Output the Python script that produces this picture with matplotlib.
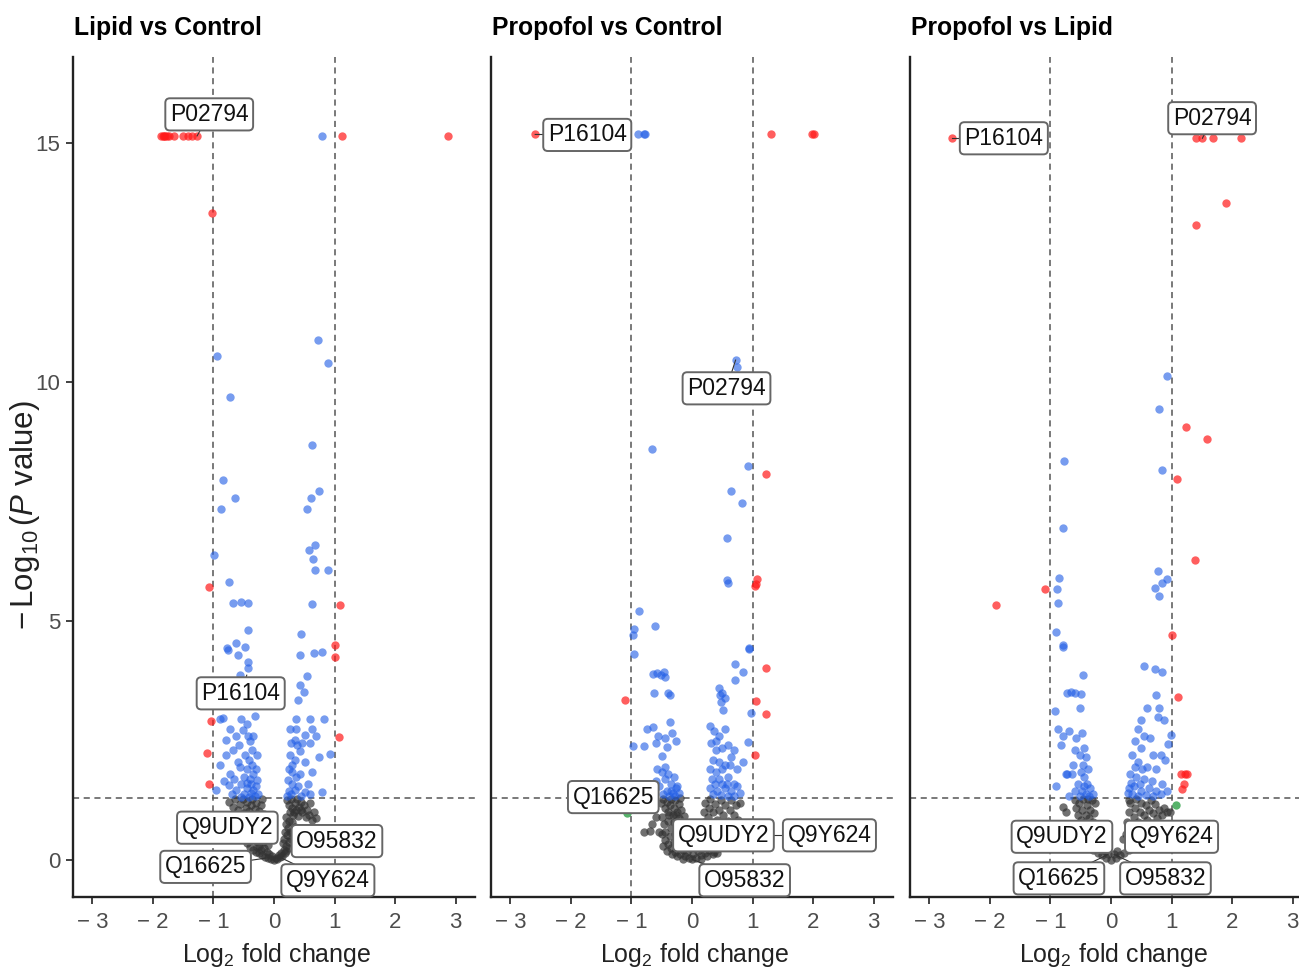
import matplotlib
matplotlib.use("Agg")
import matplotlib.pyplot as plt

plt.rcParams['font.family'] = ['Liberation Sans', 'DejaVu Sans']
plt.rcParams['mathtext.fontset'] = 'custom'
plt.rcParams['mathtext.rm'] = 'Liberation Sans'
plt.rcParams['mathtext.it'] = 'Liberation Sans:italic'

# ---------------- data (log2 FC, -log10 P) ----------------
titles = ["Lipid vs Control", "Propofol vs Control", "Propofol vs Lipid"]

# Lipid vs Control
lc_red = [(-1.86, 15.15), (-1.84, 15.15), (-1.82, 15.15), (-1.8, 15.15), (-1.77, 15.15),
          (-1.74, 15.15), (-1.66, 15.15), (-1.5, 15.15), (-1.42, 15.15), (-1.35, 15.15),
          (-1.27, 15.15), (1.13, 15.15), (2.88, 15.15), (-1.02, 13.53), (-1.07, 5.72),
          (1.09, 5.33), (1.01, 4.5), (1.0, 4.25), (-1.04, 2.91), (-1.11, 2.25),
          (-1.07, 1.6), (1.07, 2.57)]
lc_green = []
lc_blue = [(0.8, 15.15), (-0.94, 10.55), (0.73, 10.88), (0.89, 10.4), (-0.73, 9.69),
           (0.63, 8.69), (-0.84, 7.95), (-0.64, 7.58), (-0.88, 7.34), (0.74, 7.73),
           (0.61, 7.58), (0.55, 7.34), (0.68, 6.59), (0.57, 6.49), (0.64, 6.3),
           (0.68, 6.07), (0.89, 6.07), (-0.99, 6.38), (-0.74, 5.82), (-0.68, 5.38),
           (-0.55, 5.4), (-0.43, 5.38), (0.63, 5.36), (-0.43, 4.82), (0.45, 4.73),
           (-0.63, 4.54), (-0.48, 4.46), (-0.78, 4.43), (-0.76, 4.39), (-0.6, 4.29),
           (-0.43, 4.15), (-0.43, 4.02), (-0.56, 3.87), (0.43, 4.29), (0.66, 4.33),
           (0.79, 4.36), (0.55, 3.85), (0.43, 3.66), (0.5, 3.52), (0.4, 3.35),
           (-0.47, 3.75), (-0.52, 3.65),
           (-0.89, 2.96), (-0.84, 2.97), (-0.54, 2.95), (-0.31, 3.02), (-0.45, 2.85),
           (-0.52, 2.72), (-0.43, 2.6), (-0.79, 2.51), (-0.58, 2.4), (-0.4, 2.5),
           (-0.8, 2.2), (-0.67, 2.3), (-0.89, 2.0), (-0.72, 1.81), (-0.56, 1.95),
           (-0.42, 2.1), (-0.34, 1.81), (-0.28, 1.68), (-0.95, 1.46), (-0.75, 1.57),
           (-0.62, 1.46), (-0.45, 1.5), (-0.34, 1.46), (-0.26, 1.38), (-0.7, 1.38),
           (-0.5, 1.38), (-0.4, 1.7), (-0.3, 1.9), (-0.36, 2.3), (-0.48, 2.2),
           (-0.6, 2.05), (-0.66, 1.7), (-0.83, 1.65), (-0.5, 1.75), (-0.38, 1.4),
           (-0.3, 1.55), (-0.55, 1.6), (-0.44, 1.9), (-0.35, 2.6), (-0.62, 2.6),
           (-0.72, 2.75), (-0.28, 2.2), (-0.38, 1.6), (-0.32, 1.35), (-0.42, 1.33),
           (-0.55, 1.33), (-0.36, 2.0), (-0.45, 1.62),
           (0.37, 2.96), (0.59, 2.95), (0.82, 2.96), (0.26, 2.75), (0.37, 2.75),
           (0.63, 2.74), (0.52, 2.62), (0.34, 2.51), (0.6, 2.45), (0.75, 2.15),
           (0.93, 2.22), (0.26, 2.2), (0.43, 2.28), (0.52, 2.06), (0.29, 2.0),
           (0.43, 1.81), (0.23, 1.68), (0.56, 1.6), (0.8, 1.43), (0.35, 1.46),
           (0.52, 1.42), (0.28, 1.38), (0.4, 1.55), (0.34, 2.1), (0.47, 2.45),
           (0.3, 1.85), (0.25, 1.45), (0.62, 1.85), (0.7, 2.6), (0.22, 1.35),
           (0.45, 1.35), (0.6, 1.38), (0.38, 2.4), (0.28, 2.45), (0.3, 1.6),
           (0.25, 1.9), (0.36, 1.75)]
lc_grey = [(-0.74, 1.22), (-0.68, 1.12), (-0.64, 1.27), (-0.6, 1.05), (-0.56, 1.18),
           (-0.52, 1.28), (-0.5, 0.98), (-0.47, 1.1), (-0.44, 1.22), (-0.41, 1.02),
           (-0.38, 1.15), (-0.36, 1.27), (-0.33, 0.95), (-0.31, 1.08), (-0.29, 1.2),
           (-0.26, 0.9), (-0.24, 1.02), (-0.22, 1.15), (-0.2, 1.27), (-0.18, 0.85),
           (-0.17, 0.97), (-0.45, 0.6), (-0.4, 0.5), (-0.36, 0.7), (-0.32, 0.55),
           (-0.3, 0.4), (-0.27, 0.65), (-0.25, 0.3), (-0.22, 0.5), (-0.2, 0.72),
           (-0.18, 0.38), (-0.16, 0.25), (-0.15, 0.58), (-0.13, 0.45), (-0.12, 0.18),
           (-0.1, 0.32), (-0.45, 0.35), (-0.4, 0.28), (-0.35, 0.22), (-0.3, 0.18),
           (-0.25, 0.14), (-0.2, 0.1), (-0.15, 0.07), (-0.1, 0.05), (-0.08, 0.12),
           (-0.05, 0.03), (-0.03, 0.08), (0.0, 0.01), (0.03, 0.05), (0.05, 0.02),
           (0.08, 0.1), (0.1, 0.06), (0.12, 0.15), (0.14, 0.09), (0.16, 0.22),
           (0.18, 0.14), (0.2, 0.3), (0.2, 0.2), (0.15, 0.35), (0.17, 0.45),
           (0.18, 0.6), (0.19, 0.75), (0.2, 0.9), (0.22, 0.52), (0.23, 0.68),
           (0.24, 0.38), (0.25, 0.82), (0.26, 1.0), (0.27, 0.6), (0.22, 1.25),
           (0.25, 1.15), (0.28, 1.28), (0.3, 1.1), (0.32, 0.95), (0.34, 1.2),
           (0.36, 1.05), (0.38, 1.27), (0.4, 0.92), (0.42, 1.12), (0.45, 1.22),
           (0.47, 1.0), (0.5, 1.15), (0.53, 0.9), (0.55, 1.05), (0.58, 0.95),
           (0.6, 1.2), (0.63, 0.85), (0.66, 1.0), (0.7, 0.88), (0.3, 0.8),
           (0.35, 0.7), (0.28, 0.45), (-0.35, 0.45), (-0.28, 0.28), (-0.22, 0.22),
           (-0.5, 0.45), (0.24, 0.25), (0.3, 0.6), (0.33, 1.0), (0.44, 1.05)]

# Propofol vs Control
pc_red = [(-2.59, 15.18), (1.3, 15.18), (1.98, 15.18), (2.02, 15.18), (1.22, 8.07),
          (1.07, 5.89), (1.04, 5.74), (1.05, 5.78), (1.23, 4.01), (-1.1, 3.35),
          (1.06, 3.33), (1.22, 3.05), (1.04, 2.2)]
pc_green = [(-1.08, 0.98)]
pc_blue = [(-0.9, 15.18), (-0.8, 15.18), (-0.77, 15.18), (0.72, 10.46), (0.74, 10.32),
           (-0.66, 8.61), (0.92, 8.24), (0.65, 7.73), (0.82, 7.48), (0.58, 6.74),
           (0.58, 5.86), (0.6, 5.79), (-0.88, 5.22), (-0.61, 4.89), (-0.96, 4.83),
           (-0.98, 4.71), (0.94, 4.43), (-0.96, 4.31), (0.94, 4.41), (0.71, 4.11),
           (0.85, 3.94), (0.71, 3.76), (-0.64, 3.9), (-0.58, 3.92), (-0.52, 3.88),
           (-0.47, 3.93), (-0.44, 3.84), (-0.62, 3.49), (-0.4, 3.49), (-0.36, 3.45),
           (0.44, 3.6), (0.5, 3.5), (0.55, 3.4), (0.48, 3.3), (0.52, 3.15),
           (0.97, 3.07), (0.46, 3.45),
           (-0.36, 2.9), (-0.74, 2.75), (-0.65, 2.78), (-0.56, 2.6), (-0.6, 2.45),
           (-0.45, 2.55), (-0.42, 2.37), (-0.97, 2.38), (-0.8, 2.38), (-0.33, 2.65),
           (-0.27, 2.5), (-0.5, 2.18), (0.93, 2.47),
           (-0.58, 1.9), (-0.5, 1.85), (-0.45, 1.7), (-0.4, 1.8), (-0.35, 1.6),
           (-0.3, 1.75), (-0.25, 1.55), (-0.55, 1.55), (-0.42, 1.45), (-0.32, 1.4),
           (-0.48, 1.38), (-0.38, 1.35), (-0.28, 1.35), (-0.22, 1.4), (-0.6, 1.65),
           (-0.45, 1.95), (-0.35, 1.45), (-0.27, 1.5),
           (0.3, 2.8), (0.36, 2.7), (0.45, 2.6), (0.55, 2.75), (0.32, 2.45),
           (0.4, 2.3), (0.5, 2.35), (0.6, 2.4), (0.7, 2.3), (0.35, 2.1),
           (0.45, 2.05), (0.55, 2.0), (0.65, 2.15), (0.3, 1.9), (0.4, 1.85),
           (0.6, 1.75), (0.75, 1.9), (0.85, 2.05), (0.33, 1.7), (0.5, 1.6),
           (0.7, 1.6), (0.3, 1.5), (0.42, 1.45), (0.55, 1.5), (0.65, 1.45),
           (0.75, 1.55), (0.35, 1.38), (0.48, 1.36), (0.6, 1.35), (0.8, 1.4),
           (0.7, 1.35), (0.38, 1.6), (0.5, 1.9), (0.4, 2.5), (0.62, 2.0),
           (0.45, 1.7), (0.58, 1.6)]
pc_grey = [(-0.52, 1.2), (-0.48, 1.28), (-0.45, 1.1), (-0.42, 1.22), (-0.4, 1.0),
           (-0.37, 1.15), (-0.35, 1.28), (-0.32, 0.95), (-0.3, 1.1), (-0.28, 1.25),
           (-0.25, 1.0), (-0.22, 1.18), (-0.2, 1.3), (-0.18, 1.05), (-0.5, 0.9),
           (-0.47, 0.75), (-0.44, 0.6), (-0.4, 0.82), (-0.37, 0.5), (-0.35, 0.68),
           (-0.3, 0.8), (-0.28, 0.55), (-0.25, 0.7), (-0.22, 0.88), (-0.2, 0.6),
           (-0.16, 0.78), (-0.14, 0.92), (-0.13, 0.65), (-0.45, 0.42), (-0.4, 0.33),
           (-0.35, 0.25), (-0.3, 0.38), (-0.28, 0.18), (-0.24, 0.3), (-0.2, 0.12),
           (-0.18, 0.45), (-0.15, 0.22), (-0.12, 0.08), (-0.1, 0.35), (-0.08, 0.18),
           (-0.05, 0.04), (-0.03, 0.25), (0.0, 0.02), (0.02, 0.12), (0.05, 0.3),
           (0.07, 0.05), (0.1, 0.2), (0.12, 0.4), (0.15, 0.1), (0.18, 0.28),
           (0.2, 0.5), (0.22, 0.15), (0.25, 0.35), (0.28, 0.22), (0.3, 0.45),
           (0.33, 0.3), (0.36, 0.18), (0.4, 0.38), (0.44, 0.25), (0.48, 0.4),
           (-0.08, 0.5), (0.08, 0.45), (0.18, 0.65), (0.2, 0.8), (0.2, 1.0),
           (0.22, 1.2), (0.24, 0.7), (0.26, 0.9), (0.28, 1.1), (0.3, 1.28),
           (0.3, 0.62), (0.33, 0.78), (0.35, 1.0), (0.38, 1.18), (0.4, 0.55),
           (0.42, 0.85), (0.45, 1.05), (0.48, 1.25), (0.5, 0.7), (0.52, 0.95),
           (0.55, 1.15), (0.58, 0.6), (0.6, 0.82), (0.62, 1.05), (0.65, 1.25),
           (0.68, 0.72), (0.7, 0.95), (0.73, 1.15), (0.76, 0.85), (0.8, 1.2),
           (0.55, 0.5), (0.45, 0.62), (-0.79, 0.6), (-0.7, 0.62), (-0.55, 0.6),
           (-0.6, 0.9), (-0.66, 0.75), (-0.42, 0.2), (-0.33, 0.12), (-0.25, 0.08),
           (-0.15, 0.02), (0.15, 0.02), (0.25, 0.08), (0.35, 0.12), (0.42, 0.15),
           (0.5, 0.3), (0.55, 0.35), (0.6, 0.45), (-0.5, 0.55), (-0.48, 0.3),
           (-0.38, 0.95), (-0.27, 0.95), (0.36, 0.55), (0.48, 0.55), (0.65, 0.6),
           (0.7, 0.5), (-0.05, 0.4), (0.02, 0.35)]

# Propofol vs Lipid
pl_red = [(-2.63, 15.1), (1.4, 15.1), (1.51, 15.1), (1.68, 15.1), (2.14, 15.1),
          (1.9, 13.75), (1.4, 13.28), (1.24, 9.07), (1.58, 8.82), (1.09, 7.97),
          (1.39, 6.28), (-1.09, 5.68), (-1.9, 5.34), (1.0, 4.7), (1.1, 3.42),
          (1.16, 1.81), (1.22, 1.81), (1.26, 1.8), (1.2, 1.6), (1.17, 1.48)]
pl_green = [(1.08, 1.15)]
pl_blue = [(0.92, 10.13), (0.8, 9.43), (-0.77, 8.35), (0.85, 8.16), (-0.79, 6.94),
           (0.78, 6.05), (-0.86, 5.9), (0.92, 5.88), (0.85, 5.79), (0.73, 5.69),
           (-0.9, 5.68), (0.79, 5.52), (-0.87, 5.37), (-0.91, 4.78), (-0.79, 4.5),
           (-0.79, 4.46), (-0.47, 3.88), (0.55, 4.06), (0.72, 4.0), (0.85, 3.94),
           (-0.92, 3.12), (-0.72, 3.5), (-0.66, 3.52), (-0.6, 3.5), (-0.5, 3.48),
           (-0.51, 3.19), (0.74, 3.46), (0.6, 3.19), (0.8, 3.19), (0.77, 3.0),
           (0.88, 2.93), (0.5, 2.93), (0.99, 2.61), (0.94, 2.44),
           (-0.88, 2.75), (-0.8, 2.6), (-0.7, 2.7), (-0.58, 2.55), (-0.48, 2.65),
           (-0.82, 2.4), (-0.6, 2.3), (-0.52, 2.2), (-0.45, 2.35), (-0.42, 2.16),
           (-0.91, 1.55), (-0.72, 1.81), (-0.75, 1.8), (-0.65, 1.8), (-0.5, 1.85),
           (-0.45, 1.75), (-0.55, 1.6), (-0.4, 1.6), (-0.35, 1.5), (-0.6, 1.45),
           (-0.48, 1.45), (-0.42, 1.38), (-0.3, 1.38), (-0.7, 1.35), (-0.52, 1.35),
           (-0.38, 1.9), (-0.46, 2.0), (-0.62, 2.0), (-0.44, 1.55), (-0.36, 1.35),
           (0.45, 2.75), (0.55, 2.6), (0.4, 2.5), (0.65, 2.55), (0.5, 2.35),
           (0.7, 2.2), (0.82, 2.2), (0.9, 2.1), (0.35, 2.2), (0.45, 2.05),
           (0.6, 1.95), (0.75, 1.9), (0.32, 1.8), (0.42, 1.75), (0.55, 1.7),
           (0.68, 1.65), (0.85, 1.6), (0.3, 1.5), (0.38, 1.55), (0.5, 1.45),
           (0.62, 1.5), (0.75, 1.45), (0.92, 1.45), (0.35, 1.38), (0.45, 1.35),
           (0.58, 1.36), (0.7, 1.35), (0.82, 1.38), (0.28, 1.4), (0.4, 1.95),
           (0.52, 1.9), (0.33, 1.62), (0.48, 1.6)]
pl_grey = [(-0.6, 1.25), (-0.57, 1.1), (-0.55, 0.95), (-0.53, 1.2), (-0.5, 0.85),
           (-0.48, 1.05), (-0.46, 1.28), (-0.44, 0.78), (-0.42, 0.95), (-0.4, 1.15),
           (-0.38, 0.72), (-0.36, 0.88), (-0.34, 1.05), (-0.32, 1.25), (-0.3, 0.8),
           (-0.28, 0.98), (-0.26, 0.65), (-0.24, 0.55), (-0.8, 1.12), (-0.75, 1.01),
           (-0.45, 0.38), (-0.38, 0.3), (-0.3, 0.22), (-0.22, 0.15), (-0.15, 0.1),
           (-0.08, 0.05), (0.0, 0.0), (0.08, 0.05), (0.15, 0.1), (0.22, 0.15),
           (0.3, 0.22), (0.38, 0.3), (0.45, 0.38), (-0.2, 0.45), (-0.15, 0.3),
           (0.2, 0.45), (0.25, 0.55), (-0.1, 0.2), (0.1, 0.2), (0.05, 0.12),
           (-0.05, 0.12), (0.27, 0.8), (0.3, 1.0), (0.32, 1.2), (0.35, 0.72),
           (0.38, 0.9), (0.4, 1.1), (0.42, 1.28), (0.45, 0.8), (0.48, 1.0),
           (0.5, 1.2), (0.53, 0.75), (0.55, 0.95), (0.58, 1.15), (0.6, 0.85),
           (0.63, 1.05), (0.66, 1.25), (0.68, 0.78), (0.7, 0.98), (0.73, 1.18),
           (0.76, 0.88), (0.8, 1.05), (0.84, 0.95), (0.88, 1.1), (0.93, 1.0),
           (0.98, 1.0), (0.3, 0.6), (0.4, 0.62), (-0.52, 0.7), (-0.45, 0.62),
           (-0.35, 0.55), (-0.3, 0.45), (-0.27, 1.2), (-0.38, 1.28), (0.35, 0.45),
           (0.5, 0.6), (0.62, 0.68), (0.3, 1.25)]

# labels: (text, label centre, point)
lc_labels = [("P02794", (-1.07, 15.6), (-1.27, 15.15)),
             ("P16104", (-0.55, 3.49), (-0.45, 3.87)),
             ("Q9UDY2", (-0.77, 0.68), (-0.2, 0.6)),
             ("O95832", (1.04, 0.4), (0.2, 0.45)),
             ("Q16625", (-1.13, -0.14), (-0.1, 0.05)),
             ("Q9Y624", (0.89, -0.42), (0.1, 0.06))]
pc_labels = [("P16104", (-1.73, 15.17), (-2.59, 15.18)),
             ("P02794", (0.57, 9.87), (0.72, 10.46)),
             ("Q16625", (-1.3, 1.32), (-1.08, 0.98)),
             ("Q9UDY2", (0.52, 0.52), (0.05, 0.3)),
             ("Q9Y624", (2.27, 0.52), (0.8, 0.52)),
             ("O95832", (0.87, -0.42), (0.0, 0.02))]
pl_labels = [("P16104", (-1.77, 15.1), (-2.63, 15.1)),
             ("P02794", (1.67, 15.52), (1.51, 15.1)),
             ("Q9UDY2", (-0.81, 0.49), (-0.2, 0.45)),
             ("Q9Y624", (1.0, 0.49), (0.25, 0.55)),
             ("Q16625", (-0.86, -0.38), (-0.05, 0.12)),
             ("O95832", (0.9, -0.38), (0.05, 0.12))]

panels = [(lc_grey, lc_green, lc_blue, lc_red, lc_labels),
          (pc_grey, pc_green, pc_blue, pc_red, pc_labels),
          (pl_grey, pl_green, pl_blue, pl_red, pl_labels)]

xticks = [-3, -2, -1, 0, 1, 2, 3]
xtick_labels = ["\u2212 3", "\u2212 2", "\u2212 1", "0", "1", "2", "3"]
yticks = [0, 5, 10, 15]

colours = ["#333333", "#1f9a3a", "#2460e6", "#ff1a1a"]
alphas = [0.7, 0.75, 0.62, 0.7]

# ---------------- figure ----------------
W, H = 1299, 969
fig = plt.figure(figsize=(W / 100, H / 100), dpi=100)
lefts = [73, 491, 910]

for i, (ax_left, panel) in enumerate(zip(lefts, panels)):
    ax = fig.add_axes([ax_left / W, 72 / H, 402 / W, 840 / H])
    grey, green, blue, red, labels = panel
    for pts, col, a in zip([grey, green, blue, red], colours, alphas):
        if not pts:
            continue
        xs = [p[0] for p in pts]
        ys = [p[1] for p in pts]
        ax.scatter(xs, ys, s=36, c=col, alpha=a, linewidths=0, zorder=3)

    for xv in (-1, 1):
        ax.axvline(xv, color="#555555", lw=1.1, ls=(0, (4, 3)), zorder=1)
    ax.axhline(1.301, color="#555555", lw=1.1, ls=(0, (4, 3)), zorder=1)

    # connectors first, boxes on top
    for txt, (lx, ly), (px, py) in labels:
        ax.plot([lx, px], [ly, py], color="#333333", lw=0.8, zorder=4)
    for txt, (lx, ly), (px, py) in labels:
        ax.text(lx, ly, txt, ha="center", va="center", fontsize=16.5,
                color="#111111", zorder=6,
                bbox=dict(boxstyle="round,pad=0.2,rounding_size=0.2",
                          fc="white", ec="#666666", lw=1.4))

    ax.set_xlim(-3.32, 3.32)
    ax.set_ylim(-0.77, 16.8)
    ax.spines["top"].set_visible(False)
    ax.spines["right"].set_visible(False)
    ax.spines["left"].set_linewidth(1.7)
    ax.spines["bottom"].set_linewidth(1.7)
    ax.spines["left"].set_color("#222222")
    ax.spines["bottom"].set_color("#222222")

    ax.set_xticks(xticks)
    ax.set_xticklabels(xtick_labels)
    ax.tick_params(axis="x", length=5, width=1.3, color="#333333",
                   labelsize=16, labelcolor="#4d4d4d", pad=6)
    if i == 0:
        ax.set_yticks(yticks)
        ax.tick_params(axis="y", length=5, width=1.3, color="#333333",
                       labelsize=16, labelcolor="#4d4d4d", pad=4)
        ax.set_ylabel(r"$-\,\mathrm{Log}_{10}\,(\mathit{P}\ \mathrm{value})$",
                      fontsize=22.5, color="#222222")
        ax.yaxis.set_label_coords(-0.077, 0.455)
    else:
        ax.set_yticks([])

    ax.set_xlabel(r"$\mathrm{Log}_{2}$ fold change", fontsize=18, color="#222222")
    ax.xaxis.set_label_coords(0.507, -0.052)

    fig.text((ax_left + 1) / W, 1 - 28 / H, titles[i], fontsize=17.8,
             fontweight="bold", ha="left", va="center")

fig.savefig("out.png", dpi=100, facecolor="white")
